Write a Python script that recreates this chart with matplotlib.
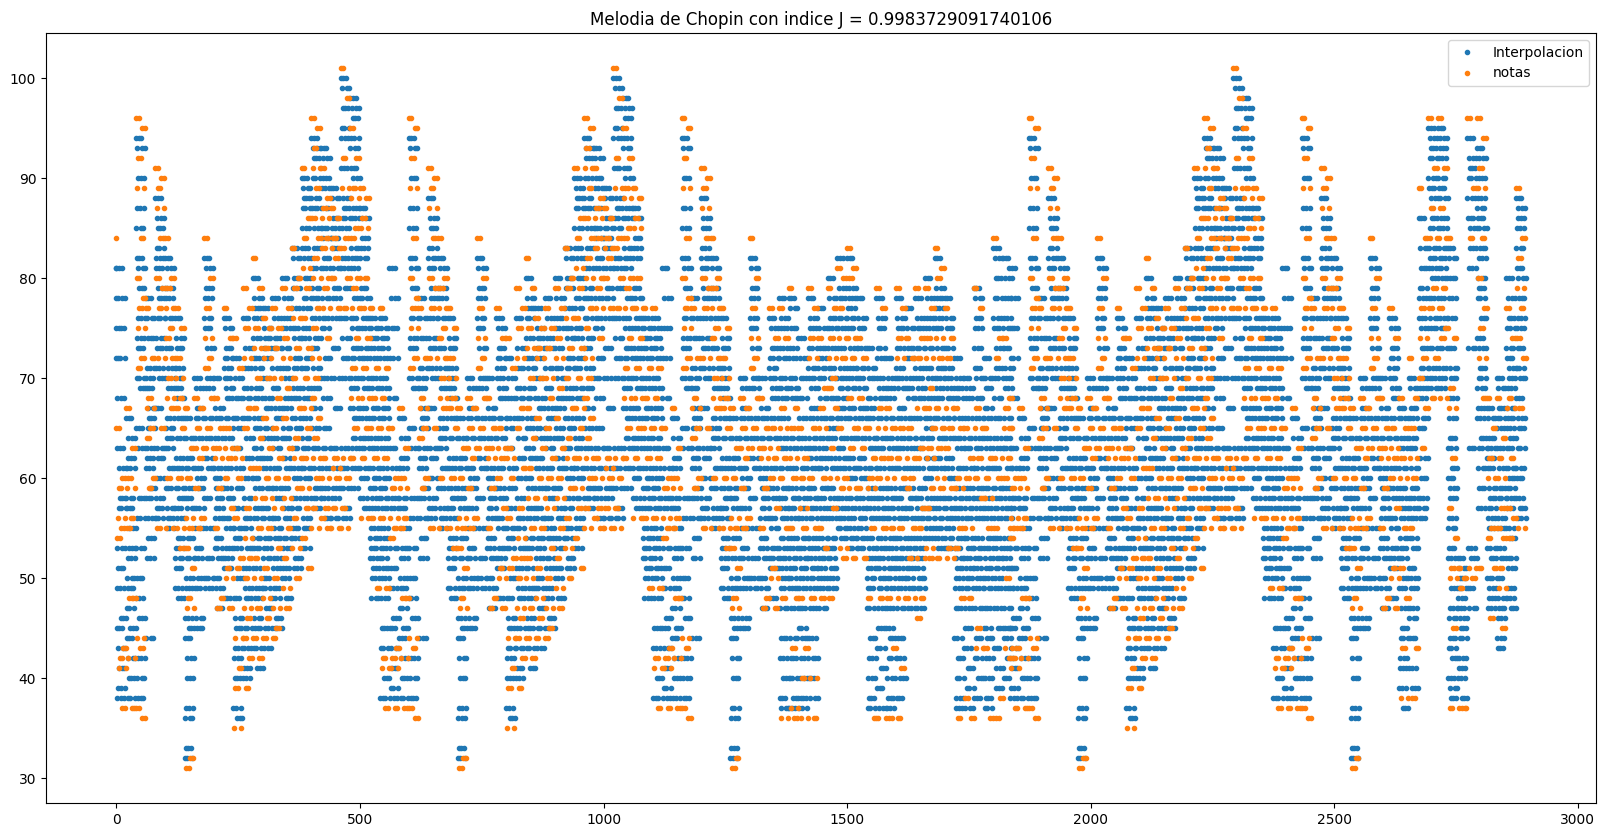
import numpy as np
import matplotlib
matplotlib.use("Agg")
import matplotlib.pyplot as plt

# ancho de cada bloque (en indice de muestra)
ANCHO = 20
# cada valor leido se dibuja como un pequeño tramo de puntos
REP_INTERP = 3
REP_NOTAS = 2

# primera nota aislada
inicio_notas = [84]
inicio_interp = [81, 78, 75, 72]

# seccion A (se repite), bloques de 20 desde 0 hasta 560
notas_a = [
    [65, 60, 59, 56, 55, 54, 43, 42, 41, 37],
    [67, 63, 60, 59, 56, 55, 48, 48, 42, 37],
    [96, 95, 92, 89, 84, 80, 78, 77, 75, 72, 71, 44, 43, 37, 36],
    [77, 72, 68, 67, 65, 64, 60, 59],
    [91, 90, 89, 87, 84, 80, 79, 77, 72, 65, 55],
    [84, 80, 79, 77, 75, 74, 72, 70, 68, 67, 60, 55],
    [77, 75, 72, 70, 68, 67, 65, 60, 55, 53],
    [67, 63, 60, 56, 55, 53, 51, 48, 47, 32, 31],
    [68, 67, 65, 63, 62, 59, 56, 55],
    [84, 80, 77, 74, 72, 71, 68, 65, 63],
    [68, 65, 63, 62, 59, 55, 48, 47],
    [77, 74, 65, 63, 62, 60, 57, 51, 50, 47],
    [74, 71, 63, 62, 60, 56, 52, 51, 44, 41, 39, 35],
    [79, 77, 75, 72, 67, 65, 61, 57, 54, 52, 50, 47, 46, 44, 42, 39],
    [82, 79, 75, 73, 70, 67, 64, 61, 58, 55, 52, 50, 47, 44, 42],
    [76, 75, 73, 72, 70, 66, 63, 60, 58, 55, 51, 48, 46, 44],
    [77, 75, 73, 70, 68, 65, 62, 60, 57, 53, 50, 47, 45, 44],
    [79, 77, 74, 72, 69, 66, 63, 60, 58, 55, 52, 49, 47],
    [83, 80, 79, 76, 73, 70, 67, 64, 62, 59, 56, 53, 50],
    [91, 86, 84, 81, 79, 76, 73, 70, 67, 65, 62, 59, 57, 54, 51],
    [96, 95, 93, 91, 89, 86, 84, 82, 80, 77, 75, 72, 70, 68, 66, 64, 62, 60, 57, 55],
    [91, 88, 87, 86, 84, 83, 80, 79, 77, 74, 62, 60, 57, 56, 55],
    [87, 86, 84, 83, 82, 80, 77, 62, 61, 60, 57, 55],
    [101, 98, 92, 89, 84, 83, 80, 77, 62, 60, 57, 55],
    [95, 92, 89, 88, 85, 84, 80, 79, 77, 74, 71, 68, 65, 62],
    [89, 88, 86, 85, 80, 77, 74, 71, 68, 65, 62, 56],
    [77, 71, 68, 65, 62, 56, 49],
    [77, 71, 68, 65, 62, 56, 49, 42, 41, 37],
]
interp_a = [
    [81, 78, 75, 72, 68, 63, 61, 58, 57, 53, 51, 49, 46, 45, 43, 41, 39, 38],
    [66, 64, 62, 61, 58, 57, 55, 53, 52, 50, 49, 47, 45, 44, 42, 40, 38],
    [94, 93, 90, 87, 85, 82, 81, 79, 76, 74, 73, 70, 69, 65, 63, 58, 56, 53, 50, 48, 46, 42, 40, 38],
    [78, 76, 74, 71, 70, 69, 67, 66, 65, 63, 62, 61, 59, 58, 56, 54, 52, 44],
    [88, 86, 85, 83, 82, 81, 79, 78, 76, 74, 73, 71, 70, 67, 63, 62, 60, 58, 57, 56],
    [82, 81, 79, 78, 76, 73, 71, 69, 66, 65, 64, 63, 61, 59, 57, 56, 55],
    [76, 74, 73, 71, 70, 69, 68, 66, 64, 62, 61, 59, 58, 57, 56, 54, 53, 52, 51, 49, 48],
    [66, 64, 62, 61, 59, 58, 57, 54, 52, 50, 49, 46, 45, 44, 42, 40, 37, 36, 33, 32],
    [70, 69, 67, 66, 64, 61, 60, 59, 57, 55, 53, 52, 50, 49, 46, 45],
    [82, 81, 79, 78, 76, 75, 73, 70, 69, 66, 64, 62, 61, 58, 55, 52, 50, 49],
    [70, 67, 66, 64, 61, 60, 59, 58, 57, 56, 54, 53, 52, 50, 49, 47],
    [76, 75, 73, 72, 71, 70, 69, 68, 66, 64, 61, 59, 58, 56, 55, 53, 52, 51, 48],
    [72, 70, 68, 66, 65, 63, 61, 59, 57, 55, 54, 53, 50, 48, 46, 45, 43, 42, 40, 37, 36],
    [76, 73, 71, 69, 68, 66, 64, 62, 60, 58, 56, 55, 53, 51, 49, 48, 45, 43, 41, 40],
    [80, 78, 77, 76, 74, 72, 71, 69, 68, 66, 65, 63, 62, 60, 59, 57, 56, 54, 53, 51, 49, 48, 46, 45, 43, 41],
    [77, 75, 74, 73, 72, 70, 68, 67, 65, 64, 62, 61, 59, 57, 56, 54, 53, 52, 50, 49, 47, 45, 43],
    [78, 76, 74, 73, 71, 69, 67, 66, 64, 63, 61, 59, 58, 56, 55, 54, 52, 51, 49, 48, 46, 45],
    [80, 78, 76, 75, 73, 71, 70, 68, 67, 65, 64, 62, 61, 59, 57, 56, 54, 53, 51, 50, 48],
    [83, 82, 80, 79, 77, 75, 74, 72, 71, 69, 68, 66, 65, 63, 61, 60, 58, 57, 55, 54, 52, 51],
    [90, 89, 88, 87, 85, 83, 82, 80, 78, 77, 75, 74, 72, 71, 69, 68, 66, 64, 63, 61, 60, 58, 56, 55, 53],
    [94, 93, 92, 90, 88, 87, 85, 83, 81, 79, 78, 76, 74, 73, 71, 69, 67, 65, 63, 61, 59, 58, 57],
    [93, 92, 90, 89, 87, 85, 84, 82, 81, 78, 76, 75, 72, 70, 68, 65, 63, 61, 59, 58, 56],
    [89, 88, 86, 85, 84, 83, 81, 79, 78, 76, 73, 70, 67, 63, 61, 59, 58, 56],
    [100, 99, 97, 95, 94, 91, 88, 87, 86, 85, 82, 81, 79, 76, 74, 72, 70, 63, 61, 59, 57, 56],
    [98, 97, 96, 94, 93, 91, 90, 87, 86, 83, 82, 81, 78, 76, 75, 73, 72, 70, 69, 67, 66, 64, 63, 61, 59],
    [87, 86, 84, 83, 82, 79, 78, 76, 75, 73, 72, 70, 69, 67, 66, 64, 63, 61, 60, 58, 57],
    [76, 75, 74, 73, 72, 70, 69, 67, 66, 64, 63, 61, 60, 59, 58, 57, 55, 54, 53, 52, 51, 50, 48],
    [76, 75, 74, 73, 72, 70, 69, 67, 66, 64, 63, 61, 60, 59, 58, 57, 55, 54, 53, 52, 51, 50, 48, 45, 43, 40, 38],
]

# seccion central B, bloques de 20 desde 1360
notas_b = [
    [77, 74, 67, 65, 62, 60, 55, 48, 36],
    [79, 67, 65, 62, 60, 55, 48, 43, 37, 36],
    [65, 62, 60, 57, 55, 48, 43, 40, 36],
    [79, 77, 74, 72, 65, 60, 55, 48, 40, 36],
    [74, 69, 67, 65, 60, 55, 53, 48],
    [79, 77, 74, 72, 70, 69, 67, 63, 60, 57, 48],
    [81, 80, 77, 74, 72, 65, 60, 59, 53, 52],
    [83, 81, 80, 74, 72, 68, 65, 63, 59, 52],
    [74, 72, 68, 65, 63, 59, 52],
    [65, 62, 60, 59, 55, 48, 36],
    [79, 77, 67, 65, 62, 60, 55, 48, 36],
    [67, 65, 62, 60, 55, 48, 43, 36],
    [79, 77, 74, 72, 65, 62, 60, 55, 48, 41, 36],
    [74, 72, 65, 62, 60, 59, 55, 52, 48],
    [79, 74, 72, 67, 63, 62, 57, 55, 52, 48, 46],
    [79, 77, 74, 72, 69, 67, 65, 63, 62, 59, 57, 53, 52],
    [83, 81, 80, 74, 72, 67, 65, 63, 60, 59, 52],
    [77, 74, 72, 67, 65, 63, 59, 53, 52],
    [67, 65, 60, 59, 55, 53, 48, 36],
    [65, 62, 60, 55, 48, 38, 36],
    [79, 77, 67, 65, 62, 60, 58, 45, 43],
    [65, 62, 60, 58, 55, 43, 36],
    [84, 74, 72, 62, 60, 55, 38, 36],
    [74, 68, 67, 65, 62, 60, 55, 50, 43, 42],
]
interp_b = [
    [78, 76, 75, 73, 72, 70, 69, 68, 66, 64, 63, 61, 59, 58, 57, 56, 54, 53, 52, 51, 50, 49, 47, 44, 42, 40, 38, 37],
    [78, 77, 75, 73, 72, 70, 69, 68, 64, 63, 61, 59, 58, 57, 56, 54, 53, 52, 51, 50, 49, 47, 44, 42, 40, 38, 37],
    [74, 72, 70, 68, 66, 64, 63, 61, 59, 58, 57, 56, 54, 53, 52, 51, 50, 49, 47, 45, 44, 42, 40, 38, 37],
    [78, 76, 75, 73, 71, 70, 69, 67, 66, 64, 63, 62, 61, 59, 58, 57, 56, 54, 53, 52, 51, 50, 49, 47, 44, 42, 40, 38],
    [77, 75, 73, 72, 71, 70, 68, 66, 64, 63, 62, 61, 59, 58, 57, 56, 54, 53, 52, 51, 50, 49, 47],
    [80, 78, 76, 75, 73, 71, 70, 68, 66, 65, 64, 62, 61, 59, 58, 57, 56, 54, 53, 52, 51, 50, 49],
    [82, 79, 78, 76, 75, 73, 71, 70, 69, 68, 67, 66, 64, 63, 62, 61, 58, 57, 56, 55, 54],
    [82, 79, 78, 77, 76, 75, 73, 71, 70, 69, 67, 66, 64, 62, 61, 60, 58, 57, 56, 55, 54, 53],
    [78, 76, 75, 73, 71, 70, 69, 67, 66, 64, 62, 61, 60, 58, 57, 56, 55, 54, 53],
    [73, 71, 70, 68, 67, 66, 64, 63, 61, 59, 58, 57, 56, 54, 53, 52, 51, 50, 49, 47, 44, 42, 40, 38, 37],
    [78, 76, 75, 73, 72, 70, 69, 68, 66, 64, 63, 61, 59, 58, 57, 56, 54, 53, 52, 51, 50, 49, 47, 45, 43, 41, 39, 37],
    [72, 70, 69, 68, 66, 64, 63, 61, 59, 58, 57, 56, 54, 53, 52, 51, 50, 49, 47, 45, 44, 42, 40, 38, 37],
    [78, 76, 75, 73, 71, 70, 69, 67, 66, 64, 63, 61, 59, 58, 57, 56, 54, 53, 52, 51, 50, 49, 47, 44, 42, 40, 38],
    [77, 75, 73, 72, 70, 69, 68, 66, 64, 63, 61, 59, 58, 57, 56, 54, 53, 52, 51, 50, 49, 47],
    [78, 76, 75, 73, 71, 70, 69, 68, 66, 64, 63, 61, 59, 58, 57, 56, 54, 53, 52, 51, 50, 49, 47],
    [80, 78, 76, 75, 73, 71, 70, 68, 66, 65, 64, 62, 61, 60, 58, 57, 56, 55, 54],
    [82, 79, 78, 77, 76, 75, 73, 71, 70, 69, 68, 66, 64, 62, 61, 58, 57, 56, 55, 54, 53],
    [78, 76, 75, 73, 71, 70, 69, 68, 66, 64, 62, 61, 60, 58, 57, 56, 55, 54, 53],
    [72, 70, 69, 68, 66, 64, 63, 61, 59, 58, 57, 56, 54, 53, 52, 51, 50, 49, 47, 44, 42, 40, 38, 37],
    [70, 69, 68, 66, 64, 63, 61, 59, 58, 57, 56, 54, 53, 52, 51, 50, 49, 47, 45, 43, 41, 39, 37],
    [79, 78, 76, 75, 73, 71, 70, 68, 66, 64, 63, 61, 59, 58, 57, 56, 54, 53, 52, 51, 50, 49, 47, 44, 42, 40, 38],
    [72, 70, 69, 67, 66, 64, 63, 61, 59, 58, 57, 56, 54, 53, 52, 51, 50, 49, 47, 45, 44, 42, 40, 38, 37],
    [83, 82, 80, 78, 76, 75, 73, 71, 70, 68, 66, 64, 63, 61, 59, 58, 57, 56, 54, 53, 52, 51, 50, 49, 47, 45, 43, 41, 39],
    [82, 80, 78, 76, 75, 73, 71, 70, 69, 66, 64, 63, 61, 59, 58, 57, 56, 54, 53, 52, 51, 49, 47, 45, 44, 42, 40],
]

# final, bloques de 20 desde 2633
notas_coda = [
    [68, 65, 62, 60, 55, 51, 48, 43, 38],
    [72, 68, 65, 62, 60, 55, 43, 38],
    [89, 84, 77, 74, 72, 70, 67, 63],
    [96, 91, 87, 84, 79, 77, 72, 68],
    [96, 91, 87, 84, 79, 77, 75, 74, 68],
    [84, 74, 69, 67, 62, 57, 54, 51, 50, 45, 37],
    [51, 50, 49, 37, 37],
    [96, 89, 84, 51, 50],
    [96, 94, 91, 89, 84, 80, 77, 75, 72, 68, 51],
    [68, 65, 62, 60, 55, 54, 51, 46],
    [68, 64, 62, 60, 57, 55, 54, 51, 49, 45],
    [77, 74, 68, 67, 62, 57, 56, 54],
    [89, 84, 82, 79, 77, 74, 72, 67, 55],
]
interp_coda = [
    [67, 66, 64, 63, 61, 59, 58, 57, 56, 54, 53, 52, 50, 49, 47, 45, 44, 42, 41, 39, 37],
    [70, 69, 67, 66, 64, 63, 61, 59, 58, 57, 56, 54, 53, 51, 50, 49, 47, 46, 44, 41, 39],
    [86, 83, 81, 79, 78, 76, 75, 73, 71, 70, 69, 68, 66, 65, 62, 60, 58, 57, 56],
    [95, 94, 93, 92, 90, 89, 88, 86, 85, 83, 82, 81, 80, 78, 76, 75, 73, 71, 70, 69],
    [95, 94, 93, 92, 90, 89, 88, 86, 85, 83, 82, 81, 80, 78, 76, 75, 73, 71, 70, 69],
    [83, 82, 80, 78, 76, 73, 71, 70, 68, 66, 64, 63, 61, 60, 59, 58, 56, 55, 53, 52, 49, 47, 46, 44, 43, 42, 40, 39, 38],
    [52, 51, 50, 49, 48, 47, 46, 45, 44, 42, 41, 40, 38],
    [94, 92, 91, 90, 88, 86, 85, 83, 81, 73, 63, 53, 52, 49, 47],
    [93, 92, 90, 88, 87, 86, 85, 83, 82, 80, 79, 78, 76, 74, 73, 71, 70, 69, 67, 66, 64, 63, 61, 59, 57],
    [67, 66, 64, 63, 62, 61, 59, 58, 57, 56, 55, 53, 52, 50, 49, 48, 47],
    [70, 69, 67, 66, 65, 63, 61, 59, 58, 56, 55, 53, 52, 50, 48, 47, 46, 44, 43],
    [80, 78, 76, 75, 73, 72, 71, 70, 69, 67, 66, 65, 64, 63, 61, 60, 59, 58, 57, 55, 54, 52, 51, 49, 48, 47],
    [88, 87, 86, 85, 83, 81, 80, 78, 76, 75, 73, 71, 70, 68, 66, 65, 63, 61, 60, 58, 57, 56],
]

# (inicio, bloques de notas, bloques de interpolacion, cuantos bloques)
secciones = [
    (0, notas_a, interp_a, 28),
    (560, notas_a, interp_a, 28),
    (1120, notas_a, interp_a, 12),
    (1360, notas_b, interp_b, 24),
    (1833, notas_a, interp_a, 28),
    (2393, notas_a, interp_a, 12),
    (2633, notas_coda, interp_coda, 13),
]


def expandir(inicio, bloques, rep):
    # reparte los valores de cada bloque a lo ancho del bloque
    xs, ys = [], []
    for i, bloque in enumerate(bloques):
        x0 = inicio + i * ANCHO
        for k, v in enumerate(bloque):
            base = (k * 0.618034) % 1
            for j in range(rep):
                xs.append(x0 + ANCHO * ((base + j * 0.27) % 1))
                ys.append(v)
    return xs, ys


x_int, y_int = [0.0] * len(inicio_interp), list(inicio_interp)
x_not, y_not = [0.0] * len(inicio_notas), list(inicio_notas)
for ini, notas, interp, n in secciones:
    xs, ys = expandir(ini, interp[:n], REP_INTERP)
    x_int += xs
    y_int += ys
    xs, ys = expandir(ini, notas[:n], REP_NOTAS)
    x_not += xs
    y_not += ys

fig = plt.figure(figsize=(16.08, 8.36), dpi=100)
ax = fig.add_axes([46 / 1608, 33 / 836, 1550 / 1608, 770 / 836])
ax.plot(x_int, y_int, '.', label='Interpolacion')
ax.plot(x_not, y_not, '.', label='notas')
ax.set_title('Melodia de Chopin con indice J = 0.9983729091740106')
ax.legend()

plt.savefig('out.png', dpi=100)
